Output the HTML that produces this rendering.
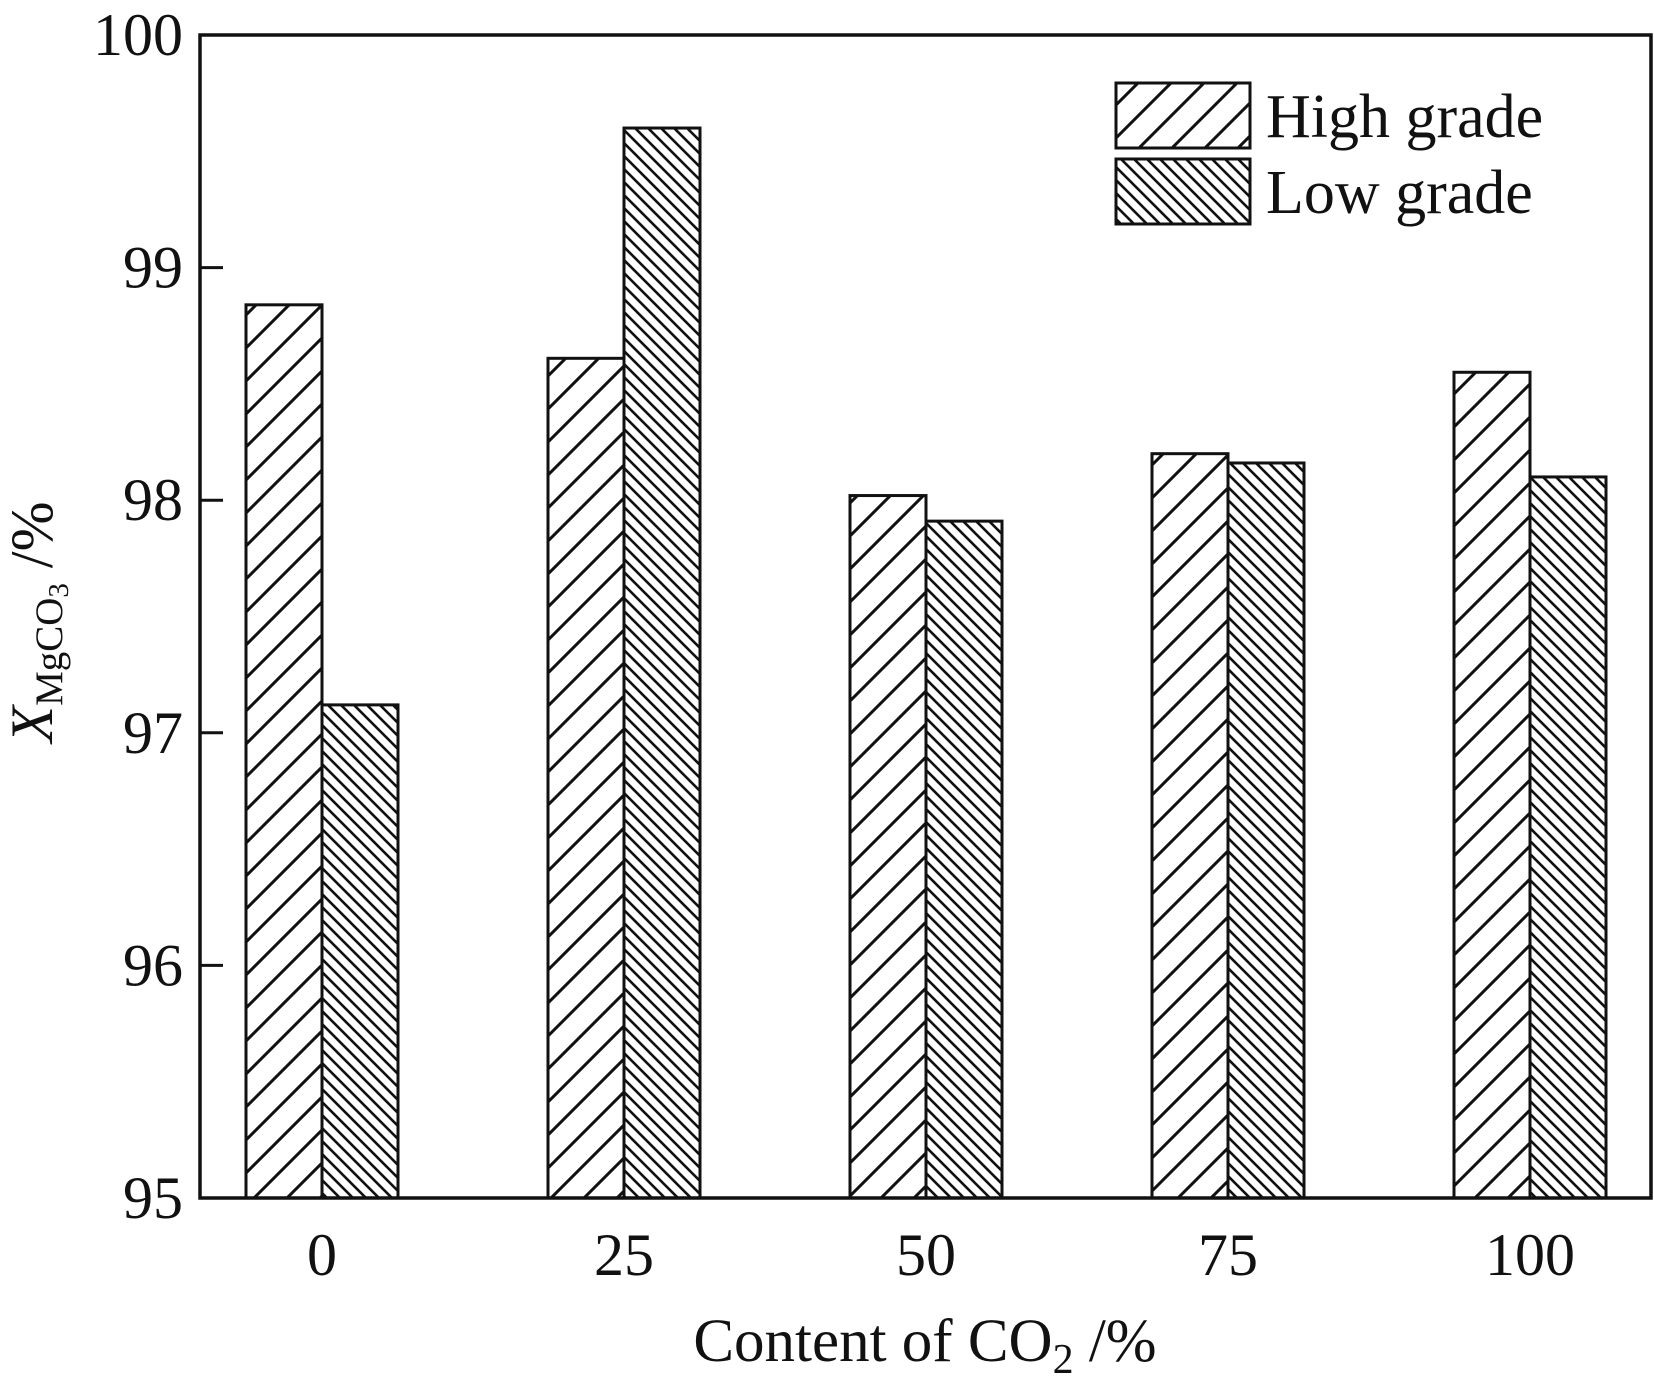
<!DOCTYPE html>
<html><head><meta charset="utf-8"><style>
html,body{margin:0;padding:0;background:#fff;}
svg{display:block;font-family:"Liberation Serif",serif;}
</style></head><body>
<svg id="chart" width="1654" height="1396" viewBox="0 0 1654 1396" xmlns="http://www.w3.org/2000/svg">
<defs>
<pattern id="hatchHigh" patternUnits="userSpaceOnUse" width="33" height="33">
<path d="M-5,38 L38,-5 M-5,5 L5,-5 M28,38 L38,28" stroke="#111" stroke-width="3"/>
</pattern>
<pattern id="hatchLow" patternUnits="userSpaceOnUse" width="13" height="13">
<path d="M-3,-3 L16,16 M-3,10 L3,16 M10,-3 L16,3" stroke="#111" stroke-width="2.6"/>
</pattern>
</defs>
<g id="bars"></g>
<rect x="200" y="35" width="1451" height="1163" fill="none" stroke="#111" stroke-width="3.5"/>
<g id="yaxis"></g>
<g id="xaxis"></g>
<text transform="translate(52,622) rotate(-90)" text-anchor="middle" font-size="60" fill="#111"><tspan font-style="italic">X</tspan><tspan font-size="39" dy="10">MgCO</tspan><tspan font-size="29" dy="6">3</tspan><tspan dy="-16"> /%</tspan></text>
<text x="925" y="1361" text-anchor="middle" font-size="61" fill="#111">Content of CO<tspan font-size="42" dy="12">2</tspan><tspan dy="-12"> /%</tspan></text>
<g>
<rect x="1116" y="83" width="134" height="65" fill="url(#hatchHigh)" stroke="#111" stroke-width="3"/>
<text x="1266" y="137" font-size="62" fill="#111">High grade</text>
<rect x="1116" y="159" width="134" height="65" fill="url(#hatchLow)" stroke="#111" stroke-width="3"/>
<text x="1266" y="213" font-size="62" fill="#111">Low grade</text>
</g>
</svg>
<script>
const categories = ["0","25","50","75","100"];
const highGrade = [98.84, 98.61, 98.02, 98.20, 98.55];
const lowGrade = [97.12, 99.60, 97.91, 98.16, 98.10];
const yTicks = [95, 96, 97, 98, 99, 100];

const NS = "http://www.w3.org/2000/svg";
const plotLeft = 200, plotRight = 1651, plotTop = 35, plotBottom = 1198;
const yMin = 95, yMax = 100;
function yScale(v){ return plotBottom - (v - yMin) / (yMax - yMin) * (plotBottom - plotTop); }
const firstCenter = 322, step = 302;
function xScale(i){ return firstCenter + i * step; }
const barW = 76;

const bars = document.getElementById('bars');
function addBar(i, v, dx, fill, name){
  const r = document.createElementNS(NS, 'rect');
  
  
  const y = yScale(v);
  r.setAttribute('x', xScale(i) + dx);
  r.setAttribute('y', y);
  r.setAttribute('width', barW);
  r.setAttribute('height', plotBottom - y);
  r.setAttribute('fill', fill);
  r.setAttribute('stroke', '#111');
  r.setAttribute('stroke-width', '3');
  bars.appendChild(r);
}
categories.forEach((c, i) => {
  addBar(i, highGrade[i], -barW, 'url(#hatchHigh)', 'bar-high-' + c);
  addBar(i, lowGrade[i], 0, 'url(#hatchLow)', 'bar-low-' + c);
});

const ya = document.getElementById('yaxis');
yTicks.forEach(t => {
  const y = yScale(t);
  const l = document.createElementNS(NS, 'line');
  
  
  l.setAttribute('x1', plotLeft); l.setAttribute('x2', plotLeft + 23);
  l.setAttribute('y1', y); l.setAttribute('y2', y);
  l.setAttribute('stroke', '#111'); l.setAttribute('stroke-width', '3');
  ya.appendChild(l);
  const tx = document.createElementNS(NS, 'text');
  
  
  tx.setAttribute('x', 183); tx.setAttribute('y', y + 20);
  tx.setAttribute('text-anchor', 'end');
  tx.setAttribute('font-size', '60'); tx.setAttribute('fill', '#111');
  tx.textContent = t;
  ya.appendChild(tx);
});

const xa = document.getElementById('xaxis');
categories.forEach((c, i) => {
  const tx = document.createElementNS(NS, 'text');
  
  
  tx.setAttribute('x', xScale(i)); tx.setAttribute('y', 1275);
  tx.setAttribute('text-anchor', 'middle');
  tx.setAttribute('font-size', '60'); tx.setAttribute('fill', '#111');
  tx.textContent = c;
  xa.appendChild(tx);
});
</script>
</body></html>
